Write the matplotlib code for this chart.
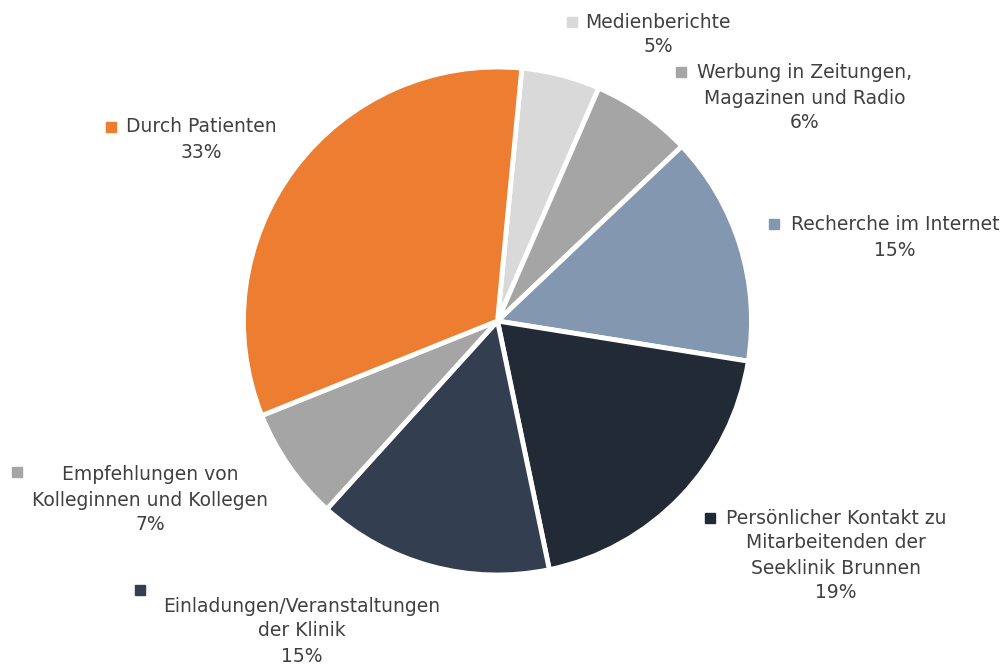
import matplotlib
matplotlib.use("Agg")
import matplotlib.pyplot as plt

# Data (clockwise from top)
categories = [
    "Medienberichte",
    "Werbung in Zeitungen,\nMagazinen und Radio",
    "Recherche im Internet",
    "Persönlicher Kontakt zu\nMitarbeitenden der\nSeeklinik Brunnen",
    "Einladungen/Veranstaltungen\nder Klinik",
    "Empfehlungen von\nKolleginnen und Kollegen",
    "Durch Patienten",
]
values = [5.0, 6.4, 14.6, 19.2, 15.0, 7.2, 32.6]
pct_labels = ["5%", "6%", "15%", "19%", "15%", "7%", "33%"]
colors = ["#D9D9D9", "#A5A5A5", "#8497B0", "#222A35", "#333F50", "#A5A5A5", "#ED7D31"]

# Layout (pixel coordinates, origin top-left): text centre x, first-line y, key square x, y
label_pos = [(658, 22), (805, 73), (895, 225), (836, 518), (302, 606), (150, 475), (201, 127)]
key_pos = [(572, 22), (681, 72), (774, 224), (710, 518), (140, 590), (17, 472), (111, 127)]

W, H = 1005, 666
fig = plt.figure(figsize=(W / 100, H / 100), dpi=100)
ax = fig.add_axes([0, 0, 1, 1])

ax.pie(values, colors=colors, startangle=84.5, counterclock=False,
       center=(497.5, H - 321), radius=254,
       wedgeprops=dict(edgecolor="white", linewidth=3.5))
ax.set_xlim(0, W)
ax.set_ylim(0, H)
ax.set_aspect("auto")
ax.axis("off")

txt_color = "#404040"
pitch = 25
for cat, pct, (lx, ly), (kx, ky), col in zip(categories, pct_labels, label_pos, key_pos, colors):
    lines = cat.split("\n") + [pct]
    for i, line in enumerate(lines):
        ax.text(lx, H - (ly + i * pitch), line, ha="center", va="center",
                fontsize=13.5, color=txt_color, family="DejaVu Sans")
    ax.plot([kx], [H - ky], marker="s", markersize=7, color=col, linestyle="none")

fig.savefig("out.png", dpi=100, facecolor="white")
